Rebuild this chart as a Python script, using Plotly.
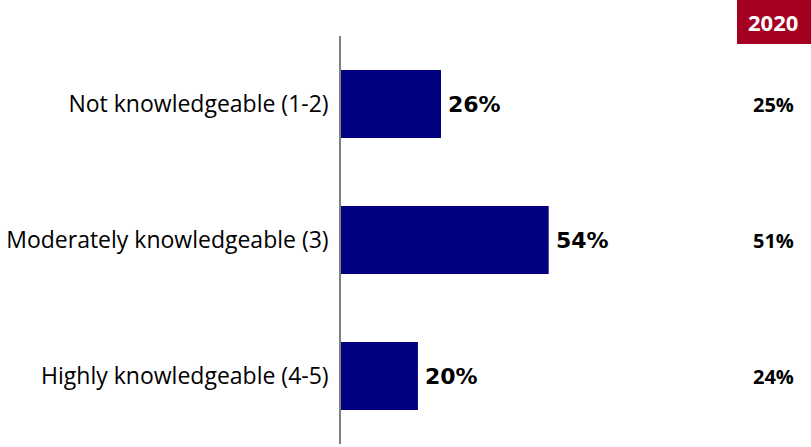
import plotly.graph_objects as go

categories = ["Not knowledgeable (1-2)", "Moderately knowledgeable (3)", "Highly knowledgeable (4-5)"]
values_current = [26, 54, 20]
values_2020 = [25, 51, 24]
header_2020 = "2020"

W, H = 811, 447
left, right, top, bottom = 341, 0, 36, 3
plot_w = W - left - right
plot_h = H - top - bottom
x_max = plot_w / 3.846

fig = go.Figure()
fig.add_trace(go.Bar(
    y=categories,
    x=values_current,
    orientation="h",
    marker=dict(color="#000080", line=dict(width=0)),
    width=0.5,
    hoverinfo="skip",
))

# Value labels just past the end of each bar
for cat, v in zip(categories, values_current):
    fig.add_annotation(
        x=v, xref="x", y=cat, yref="y",
        text=f"<b>{v}%</b>", showarrow=False,
        font=dict(family="DejaVu Sans", size=22, color="#000000"),
        xanchor="left", yanchor="middle", xshift=5,
    )

# 2020 comparison column
col_x = (773.5 - left) / plot_w
for cat, v in zip(categories, values_2020):
    fig.add_annotation(
        x=col_x, xref="paper", y=cat, yref="y",
        text=f"<b>{v}%</b>", showarrow=False,
        font=dict(family="Open Sans", size=20, color="#000000"),
        xanchor="center", yanchor="middle",
    )

# Header badge
fig.add_shape(type="rect", xref="paper", yref="paper",
              x0=(737 - left) / plot_w, x1=(811 - left) / plot_w,
              y0=1 + (top - 44) / plot_h, y1=1 + top / plot_h,
              fillcolor="#A50021", line=dict(width=0), layer="above")
fig.add_annotation(
    x=(773 - left) / plot_w, xref="paper",
    y=1 + (top - 22) / plot_h, yref="paper",
    text=f"<b>{header_2020}</b>", showarrow=False,
    font=dict(family="Open Sans", size=22, color="#FFFFFF"),
    xanchor="center", yanchor="middle",
)

fig.update_layout(
    width=W, height=H,
    margin=dict(l=left, r=right, t=top, b=bottom, pad=0),
    plot_bgcolor="#FFFFFF", paper_bgcolor="#FFFFFF",
    showlegend=False,
    xaxis=dict(range=[0, x_max], visible=False, fixedrange=True),
    yaxis=dict(
        autorange="reversed",
        showline=True, linecolor="#808080", linewidth=1.5,
        showgrid=False, zeroline=False,
        ticks="", ticklabelstandoff=6,
        tickfont=dict(family="Open Sans", size=23, color="#000000"),
    ),
)

fig.write_html("out.html")
